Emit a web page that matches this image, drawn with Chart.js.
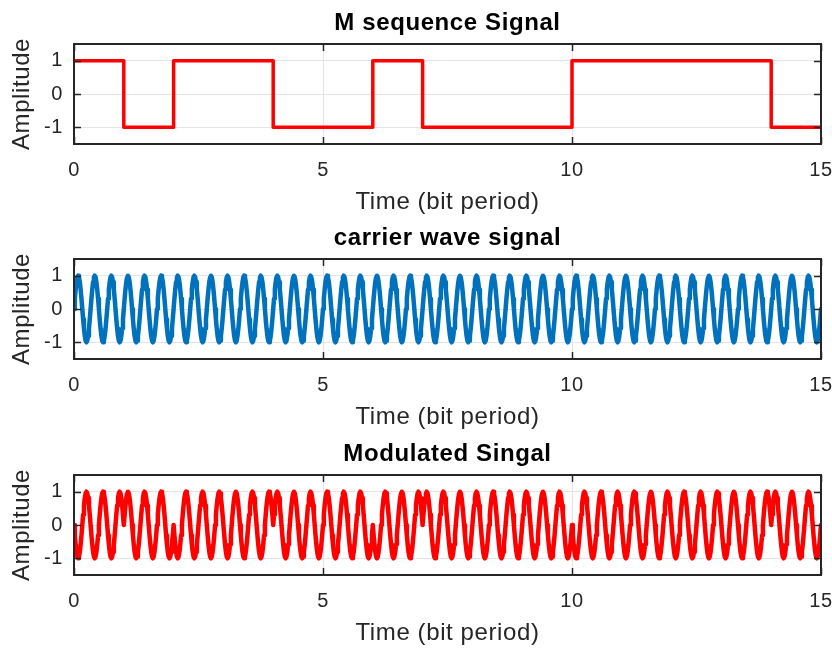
<!DOCTYPE html>
<html>
<head>
<meta charset="utf-8">
<script src="https://cdn.jsdelivr.net/npm/chart.js@4.4.1/dist/chart.umd.min.js"></script>
<style>
  html, body { margin: 0; padding: 0; background: #fff; }
  #wrap { position: relative; width: 832px; height: 648px; overflow: hidden; }
  canvas { position: absolute; left: 0; }
</style>
</head>
<body>
<div id="wrap">
  <canvas id="c1" width="832" height="216" style="top:0px"></canvas>
  <canvas id="c2" width="832" height="216" style="top:215px"></canvas>
  <canvas id="c3" width="832" height="216" style="top:431px"></canvas>
</div>
<script>
// 15-chip maximal-length sequence (bipolar), one value per bit period
const mSequence = [1, -1, 1, 1, -1, -1, 1, -1, -1, -1, 1, 1, 1, 1, -1];
// carrier completes three cycles within each bit period
const cyclesPerBit = 3;
// one carrier cycle, sampled at 20 points
const carrierCycle = [0, 0.309, 0.588, 0.809, 0.951, 1, 0.951, 0.809, 0.588, 0.309,
                      0, -0.309, -0.588, -0.809, -0.951, -1, -0.951, -0.809, -0.588, -0.309];
const xTicks = [0, 5, 10, 15];
const yTicks = [-1, 0, 1];
const panelTitles = ['M sequence Signal', 'carrier wave signal', 'Modulated Singal'];
const xLabel = 'Time (bit period)';
const yLabel = 'Amplitude';

const FONT = "'Liberation Sans', Arial, Helvetica, sans-serif";
const RED = '#ff0000';
const BLUE = '#0072bd';

// square wave: one point per bit edge, drawn stepped
const mSeqPoints = mSequence.map((b, i) => ({ x: i, y: b }));
mSeqPoints.push({ x: mSequence.length, y: mSequence[mSequence.length - 1] });

// carrier and BPSK output, sample by sample across every bit
const carrierPoints = [];
const modulatedPoints = [];
const N = carrierCycle.length;
mSequence.forEach((bit, k) => {
  for (let c = 0; c < cyclesPerBit; c++) {
    carrierCycle.forEach((v, s) => {
      const x = k + (c + s / N) / cyclesPerBit;
      carrierPoints.push({ x, y: v });
      modulatedPoints.push({ x, y: -bit * v });
    });
  }
});
carrierPoints.push({ x: mSequence.length, y: carrierCycle[0] });
modulatedPoints.push({ x: mSequence.length, y: carrierCycle[0] });

// slightly wider letter spacing for all chart text
const spacingPlugin = {
  id: 'textSpacing',
  beforeDraw(chart) { chart.ctx.letterSpacing = '0.6px'; }
};

// axes frame with inward tick marks on all four sides
const boxPlugin = {
  id: 'boxFrame',
  afterDraw(chart) {
    const { ctx, chartArea: a, scales: { x, y } } = chart;
    ctx.save();
    ctx.strokeStyle = '#262626';
    ctx.lineWidth = 1.5;
    ctx.beginPath();
    xTicks.forEach(v => {
      const px = Math.round(x.getPixelForValue(v)) + 0.5;
      ctx.moveTo(px, a.bottom); ctx.lineTo(px, a.bottom - 7);
      ctx.moveTo(px, a.top); ctx.lineTo(px, a.top + 7);
    });
    yTicks.forEach(v => {
      const py = Math.round(y.getPixelForValue(v)) + 0.5;
      ctx.moveTo(a.left, py); ctx.lineTo(a.left + 7, py);
      ctx.moveTo(a.right, py); ctx.lineTo(a.right - 7, py);
    });
    ctx.stroke();
    ctx.lineWidth = 2;
    ctx.strokeRect(a.left, a.top, a.right - a.left, a.bottom - a.top);
    ctx.restore();
  }
};

function makePanel(id, title, points, color, width, stepped) {
  new Chart(document.getElementById(id), {
    type: 'line',
    data: {
      datasets: [{
        data: points,
        borderColor: color,
        borderWidth: width,
        pointRadius: 0,
        tension: 0,
        stepped: stepped,
        borderJoinStyle: 'round',
        borderCapStyle: 'round'
      }]
    },
    options: {
      responsive: false,
      animation: false,
      devicePixelRatio: 1,
      parsing: false,
      layout: { padding: { left: 0, right: 11, top: 0, bottom: 0 } },
      plugins: {
        legend: { display: false },
        tooltip: { enabled: false },
        title: {
          display: true,
          fullSize: false,
          text: title,
          color: '#000',
          font: { family: FONT, size: 24, weight: 'bold', lineHeight: 1.2 },
          padding: { top: 9.1, bottom: 6.1 }
        }
      },
      scales: {
        x: {
          type: 'linear',
          min: 0,
          max: 15,
          afterBuildTicks(s) { s.ticks = xTicks.map(v => ({ value: v })); },
          afterFit(s) { s.height = 72; s.paddingLeft = 0; s.paddingRight = 0; },
          grid: { color: '#e4e4e4', lineWidth: 1, drawTicks: false },
          border: { display: false },
          ticks: { color: '#262626', font: { family: FONT, size: 20 }, padding: 14, maxRotation: 0, autoSkip: false },
          title: { display: true, text: xLabel, color: '#262626', font: { family: FONT, size: 24, lineHeight: 1.1 }, padding: 0 }
        },
        y: {
          type: 'linear',
          min: -1.5,
          max: 1.5,
          afterBuildTicks(s) { s.ticks = yTicks.map(v => ({ value: v })); },
          afterFit(s) { s.width = 74; s.paddingTop = 0; s.paddingBottom = 0; },
          grid: { color: '#e4e4e4', lineWidth: 1, drawTicks: false },
          border: { display: false },
          ticks: { color: '#262626', font: { family: FONT, size: 20 }, padding: 11, autoSkip: false },
          title: { display: true, text: yLabel, color: '#262626', font: { family: FONT, size: 24, lineHeight: 1.1 }, padding: { top: 9, bottom: 0 } }
        }
      }
    },
    plugins: [spacingPlugin, boxPlugin]
  });
}

makePanel('c1', panelTitles[0], mSeqPoints, RED, 3.5, 'before');
makePanel('c2', panelTitles[1], carrierPoints, BLUE, 4.5, false);
makePanel('c3', panelTitles[2], modulatedPoints, RED, 4.5, false);
</script>
</body>
</html>
